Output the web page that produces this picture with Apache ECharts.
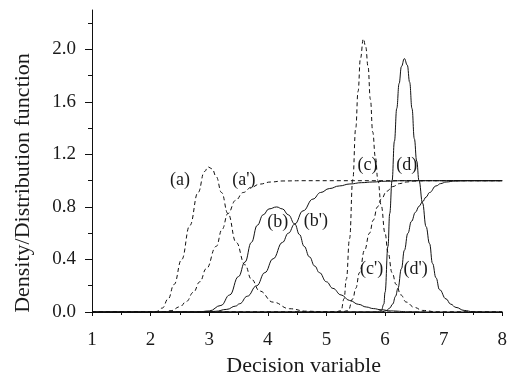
<!DOCTYPE html>
<html>
<head>
<meta charset="utf-8">
<script src="https://cdn.jsdelivr.net/npm/echarts@6/dist/echarts.min.js"></script>
<style>
  html, body { margin: 0; padding: 0; background: #fff; }
  #chart { width: 510px; height: 382px; }
</style>
</head>
<body>
<div id="chart"></div>
<script>
// curves: [decision variable, value]
const curveA = [[1,0],[2.0,0],[2.1,0.004],[2.2,0.03],[2.3,0.1],[2.4,0.21],[2.53,0.4],[2.67,0.66],[2.81,0.91],[2.92,1.07],[2.98,1.105],[3.05,1.09],[3.12,1.03],[3.21,0.91],[3.32,0.75],[3.46,0.53],[3.61,0.36],[3.72,0.25],[3.86,0.16],[4.09,0.075],[4.37,0.025],[4.66,0.006],[5.0,0],[8,0]];
const curveA2 = [[1,0],[2.2,0],[2.35,0.01],[2.5,0.04],[2.61,0.08],[2.73,0.15],[2.84,0.23],[2.95,0.33],[3.12,0.5],[3.22,0.63],[3.32,0.75],[3.45,0.85],[3.58,0.91],[3.72,0.95],[3.86,0.974],[4.05,0.99],[4.26,0.998],[4.6,1],[8,1]];
const curveB = [[1,0],[2.8,0],[3.0,0.008],[3.2,0.05],[3.35,0.13],[3.5,0.27],[3.61,0.38],[3.72,0.53],[3.82,0.66],[3.92,0.74],[4.02,0.785],[4.15,0.8],[4.25,0.785],[4.35,0.74],[4.46,0.67],[4.54,0.59],[4.62,0.5],[4.71,0.42],[4.8,0.35],[4.88,0.3],[5.0,0.23],[5.11,0.18],[5.25,0.13],[5.395,0.088],[5.55,0.058],[5.68,0.038],[5.8,0.026],[5.935,0.017],[6.1,0.008],[6.4,0.002],[6.8,0],[8,0]];
const curveB2 = [[1,0],[2.9,0],[3.1,0.005],[3.3,0.02],[3.45,0.045],[3.52,0.063],[3.65,0.12],[3.81,0.2],[3.95,0.3],[4.09,0.405],[4.25,0.53],[4.35,0.6],[4.46,0.67],[4.6,0.77],[4.77,0.86],[4.9,0.91],[5.05,0.94],[5.22,0.96],[5.4,0.975],[5.6,0.985],[5.79,0.99],[6.0,0.996],[6.3,1],[8,1]];
const curveC = [[1,0],[5.15,0],[5.25,0.01],[5.3,0.1],[5.34,0.25],[5.395,0.56],[5.45,1.01],[5.5,1.4],[5.54,1.68],[5.58,1.93],[5.63,2.08],[5.67,2.02],[5.71,1.87],[5.75,1.62],[5.79,1.37],[5.835,1.18],[5.88,1.0],[5.935,0.81],[6.0,0.6],[6.05,0.456],[6.12,0.3],[6.19,0.21],[6.27,0.13],[6.36,0.076],[6.5,0.035],[6.64,0.012],[6.9,0],[8,0]];
const curveC2 = [[1,0],[5.25,0],[5.37,0.01],[5.45,0.1],[5.5,0.18],[5.565,0.3],[5.65,0.47],[5.735,0.6],[5.8,0.7],[5.87,0.8],[5.935,0.86],[6.03,0.92],[6.13,0.955],[6.25,0.978],[6.36,0.99],[6.5,0.997],[6.7,1],[8,1]];
const curveD = [[1,0],[5.85,0],[5.935,0.01],[5.98,0.06],[6.0,0.15],[6.05,0.5],[6.08,0.75],[6.12,1.0],[6.16,1.3],[6.2,1.55],[6.24,1.74],[6.28,1.87],[6.33,1.93],[6.38,1.88],[6.42,1.75],[6.46,1.55],[6.5,1.32],[6.54,1.15],[6.58,1.0],[6.64,0.83],[6.7,0.65],[6.76,0.52],[6.81,0.37],[6.87,0.26],[6.93,0.17],[7.04,0.1],[7.12,0.06],[7.21,0.035],[7.35,0.012],[7.5,0.002],[7.7,0],[8,0]];
const curveD2 = [[1,0],[5.95,0],[6.02,0.01],[6.08,0.03],[6.13,0.06],[6.18,0.12],[6.22,0.18],[6.28,0.33],[6.33,0.47],[6.39,0.6],[6.45,0.69],[6.52,0.76],[6.58,0.805],[6.64,0.84],[6.7,0.875],[6.76,0.91],[6.87,0.96],[6.95,0.978],[7.04,0.99],[7.2,0.998],[7.4,1],[8,1]];

// curve tags: [x, y, text]
const tags = [[2.50,1.0,'(a)'],[3.59,1.005,"(a')"],[4.17,0.686,'(b)'],[4.82,0.693,"(b')"],[5.70,1.118,'(c)'],[6.37,1.118,'(d)'],[5.77,0.329,"(c')"],[6.52,0.329,"(d')"]];

const yMajor = [0, 0.4, 0.8, 1.2, 1.6, 2.0];
const yMinor = [0.2, 0.6, 1.0, 1.4, 1.8, 2.2];

const ink = '#111';
const textInk = '#1a1a1a';
const font = '"Liberation Serif", "DejaVu Serif", serif';

function curve(data, dashed) {
  return {
    type: 'line',
    data: data,
    showSymbol: false,
    smooth: 0.45,
    smoothMonotone: 'x',
    clip: true,
    silent: true,
    lineStyle: { color: ink, width: 1, type: dashed ? [4, 3] : 'solid' },
  };
}

const chart = echarts.init(document.getElementById('chart'), null, { renderer: 'canvas' });

chart.setOption({
  animation: false,
  backgroundColor: '#fff',
  grid: { left: 92, right: 7, top: 10, bottom: 69 },
  xAxis: {
    type: 'value',
    min: 1,
    max: 8,
    interval: 1,
    name: 'Decision variable',
    nameLocation: 'middle',
    nameGap: 43,
    nameTextStyle: { fontFamily: font, fontSize: 22, color: textInk, padding: [0, 0, 0, 13] },
    axisLine: { lineStyle: { color: ink, width: 1 } },
    axisTick: { inside: false, length: 4, lineStyle: { color: ink } },
    minorTick: { show: true, splitNumber: 2, length: 3, lineStyle: { color: ink } },
    axisLabel: { margin: 19, fontFamily: font, fontSize: 19, color: textInk },
    splitLine: { show: false },
  },
  yAxis: [
    {
      type: 'value',
      min: 0,
      max: 2.3,
      position: 'left',
      name: 'Density/Distribution function',
      nameLocation: 'middle',
      nameGap: 58,
      nameTextStyle: { fontFamily: font, fontSize: 22, color: textInk, padding: [0, 44, 0, 0] },
      axisLine: { show: true, lineStyle: { color: ink, width: 1 } },
      axisTick: { show: true, length: 7, customValues: yMajor, lineStyle: { color: ink } },
      axisLabel: {
        margin: 16,
        customValues: yMajor,
        fontFamily: font,
        fontSize: 19,
        color: textInk,
        formatter: v => v.toFixed(1),
      },
      splitLine: { show: false },
    },
    {
      type: 'value',
      min: 0,
      max: 2.3,
      position: 'left',
      offset: 0,
      axisLine: { show: false },
      axisTick: { show: true, length: 4, customValues: yMinor, lineStyle: { color: ink } },
      axisLabel: { show: false },
      splitLine: { show: false },
    },
  ],
  series: [
    curve(curveA, true),
    curve(curveA2, true),
    curve(curveC, true),
    curve(curveC2, true),
    curve(curveB, false),
    curve(curveB2, false),
    curve(curveD, false),
    curve(curveD2, false),
    {
      type: 'scatter',
      symbolSize: 0.5,
      itemStyle: { color: '#fff', opacity: 1 },
      silent: true,
      z: 5,
      data: tags.map(t => ({ value: [t[0], t[1]], name: t[2] })),
      label: {
        show: true,
        position: 'inside',
        formatter: p => p.name,
        fontFamily: font,
        fontSize: 18,
        color: textInk,
        opacity: 1,
        textBorderWidth: 0,
      },
    },
  ],
});
</script>
</body>
</html>
